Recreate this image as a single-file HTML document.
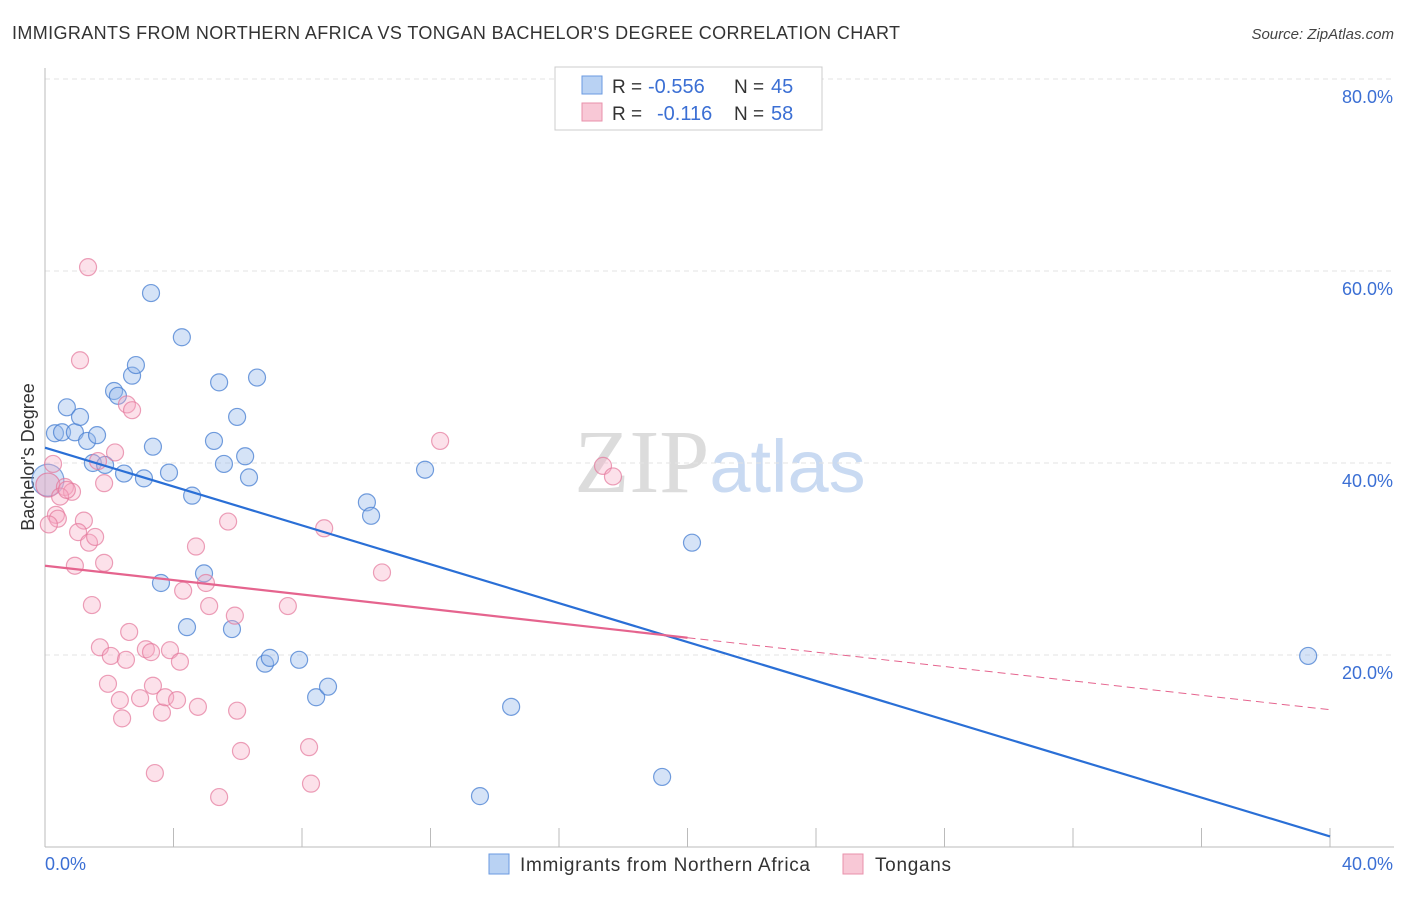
<!DOCTYPE html>
<html><head><meta charset="utf-8"><style>
body{margin:0;background:#fff;font-family:"Liberation Sans",sans-serif;}
svg text{font-family:"Liberation Sans",sans-serif;}
</style></head><body>
<svg id="chart" width="1406" height="892" xmlns="http://www.w3.org/2000/svg">
<text x="12" y="39" font-size="18" fill="#333" textLength="888">IMMIGRANTS FROM NORTHERN AFRICA VS TONGAN BACHELOR'S DEGREE CORRELATION CHART</text>
<text x="1394" y="39" font-size="15" fill="#444" text-anchor="end" font-style="italic">Source: ZipAtlas.com</text>
<text x="720" y="492" font-size="90" text-anchor="middle"><tspan fill="#dcdcdc" font-family="Liberation Serif">ZIP</tspan><tspan fill="#c9daf2" font-size="74">atlas</tspan></text>
<g id="grid"></g>
<line x1="45" y1="68" x2="45" y2="847" stroke="#bbb"/>
<line x1="45" y1="847" x2="1394" y2="847" stroke="#bbb"/>
<text transform="translate(34,457) rotate(-90)" font-size="18" fill="#333" text-anchor="middle">Bachelor's Degree</text>
<text x="45" y="870" font-size="18" fill="#3b6fd4">0.0%</text>
<text x="1393" y="870" font-size="18" fill="#3b6fd4" text-anchor="end">40.0%</text>
<g id="pts"></g>
<g id="trends"></g>
<g>
<rect x="555" y="67" width="267" height="63" fill="#fff" stroke="#ccc"/>
<rect x="582" y="76" width="20" height="18" fill="#b9d2f3" stroke="#6a9ae0"/>
<rect x="582" y="103" width="20" height="18" fill="#f8c8d6" stroke="#e891ab"/>
<text x="612" y="93" font-size="19" fill="#333">R =</text>
<text x="648" y="93" font-size="20" fill="#3b6fd4">-0.556</text>
<text x="734" y="93" font-size="19" fill="#333">N =</text>
<text x="771" y="93" font-size="20" fill="#3b6fd4">45</text>
<text x="612" y="120" font-size="19" fill="#333">R =</text>
<text x="657" y="120" font-size="20" fill="#3b6fd4">-0.116</text>
<text x="734" y="120" font-size="19" fill="#333">N =</text>
<text x="771" y="120" font-size="20" fill="#3b6fd4">58</text>
</g>
<g>
<rect x="489" y="854" width="20" height="20" fill="#b9d2f3" stroke="#6a9ae0"/>
<text x="520" y="871" font-size="19" fill="#333" textLength="290">Immigrants from Northern Africa</text>
<rect x="843" y="854" width="20" height="20" fill="#f8c8d6" stroke="#e891ab"/>
<text x="875" y="871" font-size="19" fill="#333" textLength="76">Tongans</text>
</g>
</svg>
<script>
const yTicks=[20,40,60,80];
const xTicks=[0,4,8,12,16,20,24,28,32,36,40];
const blueX=[0.31,0.53,0.68,0.93,1.09,1.31,1.62,1.49,1.87,2.15,2.27,2.46,2.71,2.83,3.08,3.30,3.36,3.61,3.86,4.26,4.42,4.58,4.95,5.26,5.42,5.57,5.82,5.98,6.23,6.35,6.60,6.85,7.00,7.91,8.44,8.81,10.02,10.15,11.83,13.54,14.51,19.21,20.14,39.32];
const blueY=[43.1,43.2,45.8,43.2,44.8,42.3,42.9,40.0,39.8,47.5,47.0,38.9,49.1,50.2,38.4,57.7,41.7,27.5,39.0,53.1,22.9,36.6,28.5,42.3,48.4,39.9,22.7,44.8,40.7,38.5,48.9,19.1,19.7,19.5,15.6,16.7,35.9,34.5,39.3,5.3,14.6,7.3,31.7,19.9];
const pinkX=[1.34,1.09,2.55,2.71,2.18,1.65,0.25,1.84,0.62,0.84,0.47,0.68,0.34,0.40,0.12,1.21,1.03,1.37,1.56,0.93,1.84,1.46,2.62,1.71,2.05,2.52,3.14,3.30,3.36,3.89,4.20,1.96,2.33,2.40,2.96,3.64,3.74,4.11,4.76,4.70,5.70,5.11,4.30,5.01,5.91,5.98,6.10,5.42,3.42,7.56,8.22,8.28,8.69,10.49,12.30,17.37,17.68];
const pinkY=[60.4,50.7,46.1,45.5,41.1,40.2,39.9,37.9,37.5,37.0,36.5,37.2,34.6,34.2,33.6,34.0,32.8,31.7,32.3,29.3,29.6,25.2,22.4,20.8,19.9,19.5,20.6,20.3,16.8,20.5,19.3,17.0,15.3,13.4,15.5,14.0,15.6,15.3,14.6,31.3,33.9,25.1,26.7,27.5,24.1,14.2,10.0,5.2,7.7,25.1,10.4,6.6,33.2,28.6,42.3,39.7,38.6];
const bigBlue=[0.09,38.2], bigPink=[0.09,37.7];
const blueTrend=[41.6,1.1], pinkTrend=[29.3,14.3];
const NS="http://www.w3.org/2000/svg";
const sx=v=>45+v/40*1285, sy=v=>847-v/20*192;
function mk(tag,attrs,parent){const e=document.createElementNS(NS,tag);for(const k in attrs)e.setAttribute(k,attrs[k]);document.getElementById(parent).appendChild(e);return e;}
yTicks.forEach(t=>{
 const l=mk('line',{x1:45,x2:1394,y1:sy(t),y2:sy(t),stroke:'#e3e3e3','stroke-dasharray':'5,4'},'grid');
 
 
 const tx=mk('text',{x:1393,y:sy(t)+24,'font-size':18,fill:'#3b6fd4','text-anchor':'end'},'grid');
 tx.textContent=t.toFixed(1)+'%';
 
 
});
xTicks.forEach(t=>{
 const l=mk('line',{x1:sx(t),x2:sx(t),y1:828,y2:847,stroke:'#bbb'},'grid');
 
 
});
function dot(x,y,r,fill,stroke,name){
 const c=mk('circle',{cx:sx(x),cy:sy(y),r:r,fill:fill,stroke:stroke,'stroke-width':1.2},'pts');
 
 
}
dot(bigBlue[0],bigBlue[1],16,'rgba(150,185,235,0.4)','rgba(80,130,210,0.7)','blue-point-large');
dot(bigPink[0],bigPink[1],12,'rgba(240,160,185,0.4)','rgba(225,110,150,0.7)','pink-point-large');
blueX.forEach((x,i)=>dot(x,blueY[i],8.5,'rgba(150,185,235,0.4)','rgba(70,125,210,0.75)','blue-point'));
pinkX.forEach((x,i)=>dot(x,pinkY[i],8.5,'rgba(245,170,195,0.35)','rgba(228,120,155,0.7)','pink-point'));
const bt=mk('line',{x1:sx(0),y1:sy(blueTrend[0]),x2:sx(40),y2:sy(blueTrend[1]),stroke:'#2a6fd6','stroke-width':2.2},'trends');


const pm=pinkTrend[0]+(pinkTrend[1]-pinkTrend[0])*0.5;
const pt=mk('line',{x1:sx(0),y1:sy(pinkTrend[0]),x2:sx(20),y2:sy(pm),stroke:'#e5648e','stroke-width':2.2},'trends');


const pd=mk('line',{x1:sx(20),y1:sy(pm),x2:sx(40),y2:sy(pinkTrend[1]),stroke:'#e5648e','stroke-width':1,'stroke-dasharray':'8,5'},'trends');


</script>
</body></html>
